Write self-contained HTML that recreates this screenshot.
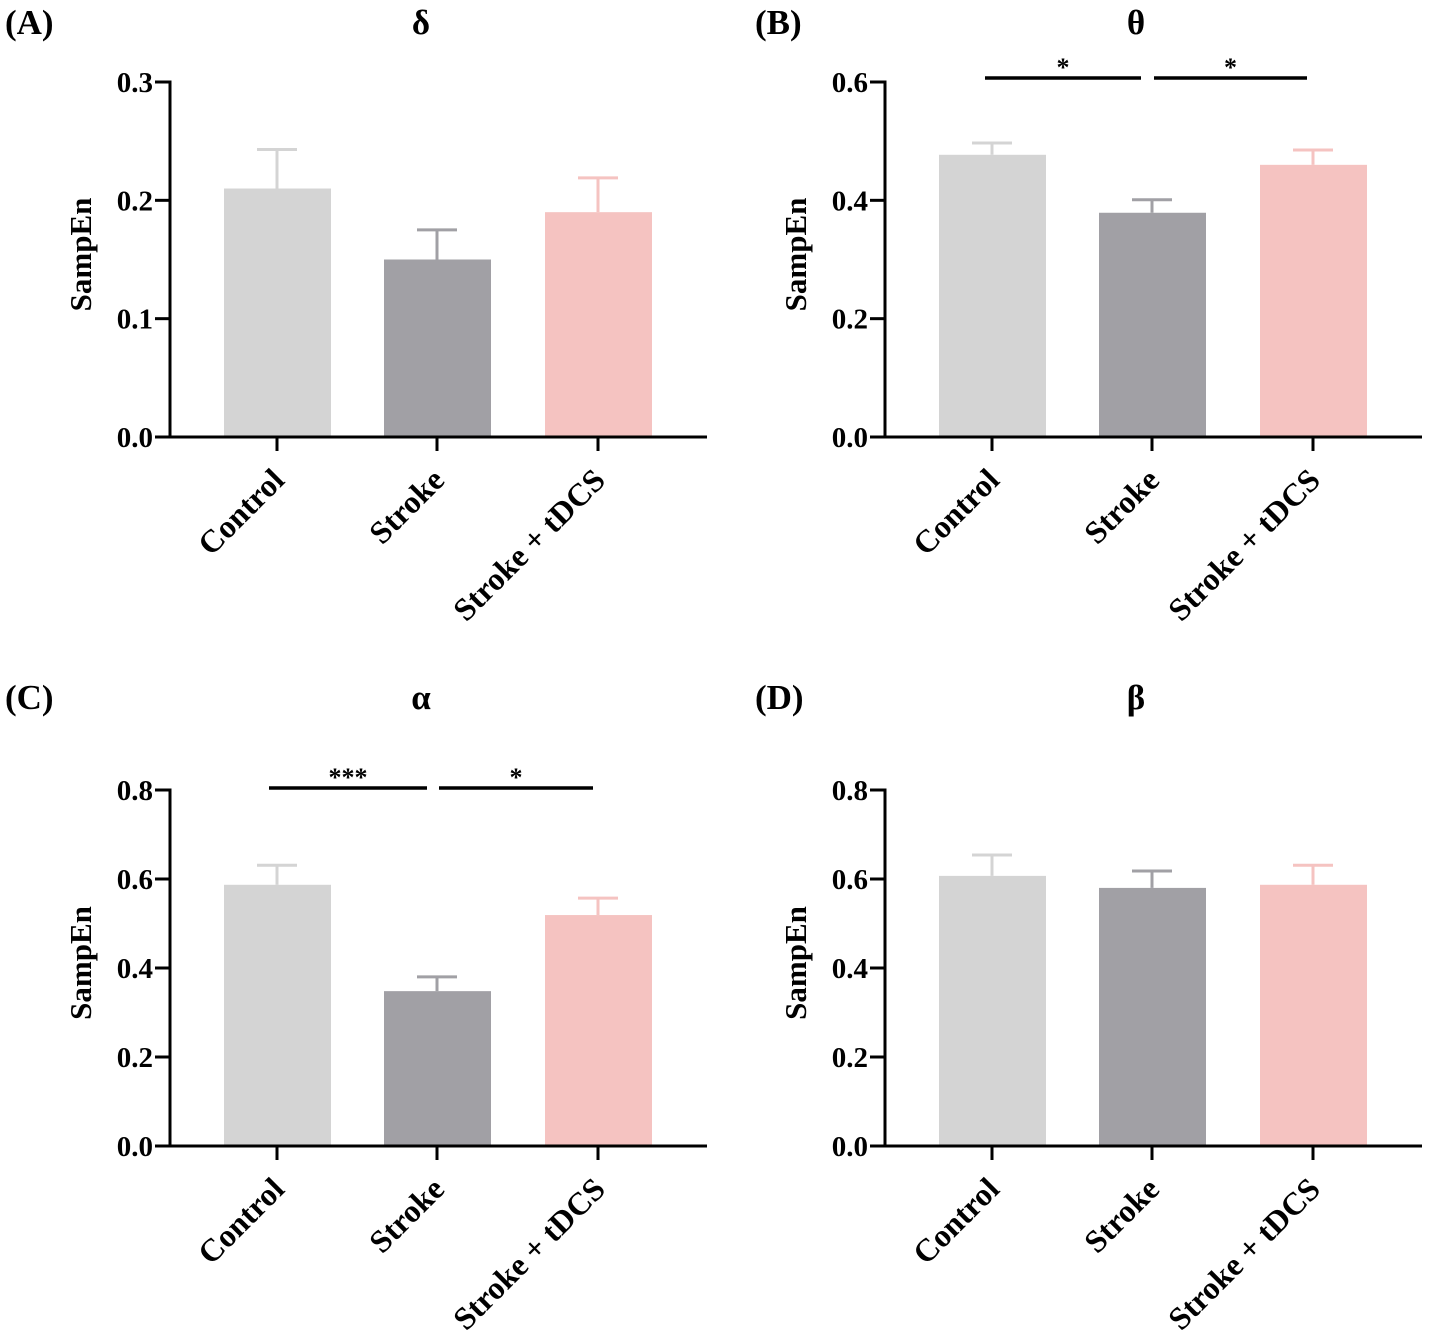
<!DOCTYPE html>
<html><head><meta charset="utf-8"><style>
html,body{margin:0;padding:0;background:#fff;}
svg{display:block;font-family:"Liberation Serif",serif;font-weight:bold;}
</style></head><body>
<svg id="chart" width="1429" height="1341" viewBox="0 0 1429 1341" xmlns="http://www.w3.org/2000/svg"></svg>
<script>
const categories = ["Control", "Stroke", "Stroke + tDCS"];
const deltaValues = [0.21, 0.15, 0.19];
const deltaErrors = [0.033, 0.025, 0.029];
const thetaValues = [0.477, 0.379, 0.46];
const thetaErrors = [0.02, 0.022, 0.025];
const alphaValues = [0.587, 0.348, 0.519];
const alphaErrors = [0.044, 0.032, 0.038];
const betaValues = [0.607, 0.58, 0.587];
const betaErrors = [0.047, 0.038, 0.044];
const ticks03 = [0, 0.1, 0.2, 0.3];
const ticks06 = [0, 0.2, 0.4, 0.6];
const ticks08 = [0, 0.2, 0.4, 0.6, 0.8];
const colors = ["#d4d4d4", "#a1a0a5", "#f5c3c1"];

const svg = document.getElementById('chart');
const NS = "http://www.w3.org/2000/svg";
function mk(tag, attrs, parent, text){
  const e = document.createElementNS(NS, tag);
  for (const k in attrs) e.setAttribute(k, attrs[k]);
  if (text !== undefined) e.textContent = text;
  (parent || svg).appendChild(e);
  return e;
}
const panels = [
  {id:"a", label:"(A)", lx:5, ly:34, title:"δ", ox:170, top:82, bottom:437, max:0.3, ticks:ticks03, vals:deltaValues, errs:deltaErrors, sig:[]},
  {id:"b", label:"(B)", lx:755, ly:34, title:"θ", ox:885, top:82, bottom:437, max:0.6, ticks:ticks06, vals:thetaValues, errs:thetaErrors,
    sig:[{x1:985,x2:1141,t:"*"},{x1:1154,x2:1307,t:"*"}], sigY:78},
  {id:"c", label:"(C)", lx:5, ly:709, title:"α", ox:170, top:790, bottom:1146, max:0.8, ticks:ticks08, vals:alphaValues, errs:alphaErrors,
    sig:[{x1:269,x2:427,t:"***"},{x1:439,x2:593,t:"*"}], sigY:788},
  {id:"d", label:"(D)", lx:755, ly:709, title:"β", ox:885, top:790, bottom:1146, max:0.8, ticks:ticks08, vals:betaValues, errs:betaErrors, sig:[]}
];
panels.forEach(p => {
  const g = mk('g', {});
  
  
  const yS = v => p.bottom - v / p.max * (p.bottom - p.top);
  const centers = [p.ox + 107, p.ox + 267, p.ox + 428];
  const lab = mk('text', {x:p.lx, y:p.ly, 'font-size':35}, g, p.label);
  
  
  const tt = mk('text', {x:p.ox + 251, y:p.ly, 'font-size':35, 'text-anchor':'middle'}, g, p.title);
  
  
  p.vals.forEach((v, i) => {
    const c = centers[i];
    const eb = mk('line', {x1:c, x2:c, y1:yS(v), y2:yS(v + p.errs[i]), stroke:colors[i], 'stroke-width':3}, g);
    
    
    const ec = mk('line', {x1:c - 20, x2:c + 20, y1:yS(v + p.errs[i]), y2:yS(v + p.errs[i]), stroke:colors[i], 'stroke-width':3}, g);
    
    
    const r = mk('rect', {x:c - 53, y:yS(v), width:107, height:p.bottom - yS(v), fill:colors[i]}, g);
    
    
  });
  const ya = mk('line', {x1:p.ox, x2:p.ox, y1:p.top - 1.5, y2:p.bottom + 1.5, stroke:'#000', 'stroke-width':3}, g);
  
  
  const xa = mk('line', {x1:p.ox - 1.5, x2:p.ox + 537, y1:p.bottom, y2:p.bottom, stroke:'#000', 'stroke-width':3}, g);
  
  
  p.ticks.forEach(t => {
    const y = yS(t);
    mk('line', {x1:p.ox - 15, x2:p.ox, y1:y, y2:y, stroke:'#000', 'stroke-width':3}, g);
    const tl = mk('text', {x:p.ox - 17, y:y + 10, 'font-size':29, 'text-anchor':'end'}, g, t.toFixed(1));
    
    
  });
  const yt = mk('text', {x:0, y:0, 'font-size':31, 'text-anchor':'middle', transform:`translate(${p.ox - 79},${(p.top + p.bottom) / 2 - 5}) rotate(-90)`}, g, 'SampEn');
  
  
  categories.forEach((c, i) => {
    const x = centers[i];
    mk('line', {x1:x, x2:x, y1:p.bottom, y2:p.bottom + 14, stroke:'#000', 'stroke-width':3}, g);
    const cl = mk('text', {x:0, y:0, 'font-size':32, 'text-anchor':'end', transform:`translate(${x + 9},${p.bottom + 45}) rotate(-45)`}, g, c);
    
    
  });
  p.sig.forEach(s => {
    const l = mk('line', {x1:s.x1, x2:s.x2, y1:p.sigY, y2:p.sigY, stroke:'#000', 'stroke-width':3.5}, g);
    
    
    const st = mk('text', {x:(s.x1 + s.x2) / 2, y:p.sigY - 2, 'font-size':26, 'text-anchor':'middle'}, g, s.t);
    
    
  });
});
</script>
</body></html>
